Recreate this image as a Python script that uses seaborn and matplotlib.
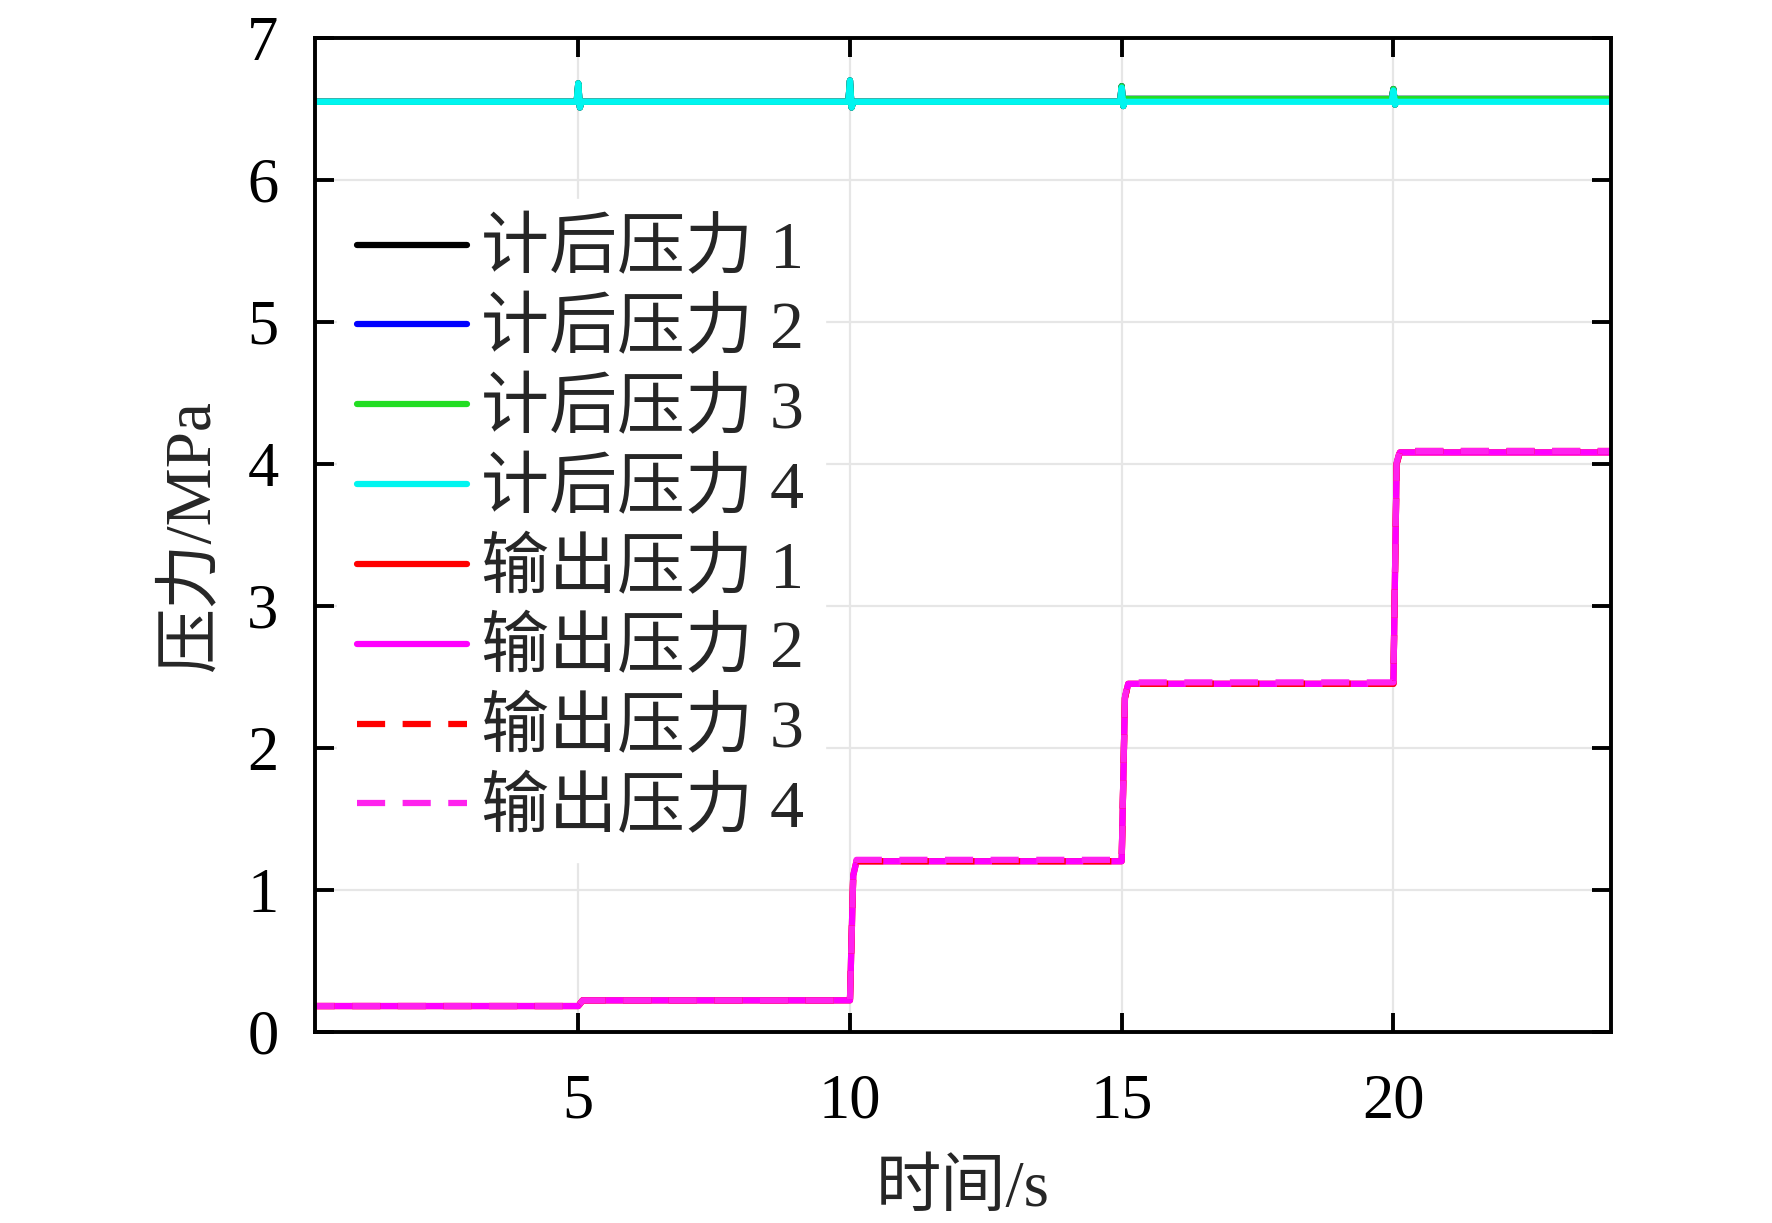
import numpy as np
import pandas as pd
import matplotlib
matplotlib.use("Agg")
import matplotlib.pyplot as plt
import seaborn as sns

# ---- data ----
t_after = [0.0, 4.97, 5.0, 5.03, 5.06, 9.97, 10.0, 10.03, 10.06, 14.97, 15.0, 15.03, 15.06,
           19.97, 20.0, 20.03, 20.06, 24.0]
after_p1 = [6.55, 6.55, 6.68, 6.51, 6.55, 6.55, 6.70, 6.51, 6.55, 6.55, 6.66, 6.52, 6.57,
            6.57, 6.64, 6.53, 6.57, 6.57]
after_p2 = [6.55, 6.55, 6.68, 6.51, 6.55, 6.55, 6.70, 6.51, 6.55, 6.55, 6.66, 6.52, 6.57,
            6.57, 6.64, 6.53, 6.57, 6.57]
after_p3 = [6.55, 6.55, 6.68, 6.51, 6.55, 6.55, 6.70, 6.51, 6.55, 6.55, 6.66, 6.52, 6.57,
            6.57, 6.64, 6.53, 6.57, 6.57]
after_p4 = [6.55, 6.55, 6.68, 6.51, 6.55, 6.55, 6.70, 6.51, 6.55, 6.55, 6.65, 6.52, 6.55,
            6.55, 6.63, 6.53, 6.55, 6.55]

t_out = [0.0, 5.0, 5.08, 10.0, 10.06, 10.12, 15.0, 15.06, 15.12, 20.0, 20.06, 20.12, 24.0]
out_p1 = [0.18, 0.18, 0.22, 0.22, 1.10, 1.20, 1.20, 2.35, 2.45, 2.45, 4.00, 4.08, 4.08]
out_p2 = [0.18, 0.18, 0.22, 0.22, 1.10, 1.20, 1.20, 2.35, 2.45, 2.45, 4.00, 4.08, 4.08]
out_p3 = [0.18, 0.18, 0.22, 0.22, 1.10, 1.20, 1.20, 2.35, 2.45, 2.45, 4.00, 4.09, 4.09]
out_p4 = [0.18, 0.18, 0.22, 0.22, 1.10, 1.21, 1.21, 2.36, 2.46, 2.46, 4.01, 4.09, 4.09]

labels = ["计后压力 1", "计后压力 2", "计后压力 3", "计后压力 4",
          "输出压力 1", "输出压力 2", "输出压力 3", "输出压力 4"]
x_ticks = [5, 10, 15, 20]
y_ticks = [0, 1, 2, 3, 4, 5, 6, 7]
x_label = "时间/s"
y_label = "压力/MPa"

# ---- style ----
sns.set_style("ticks")
FONT = ["Liberation Serif", "Noto Sans CJK SC", "DejaVu Sans"]
plt.rcParams["font.family"] = FONT
plt.rcParams["axes.unicode_minus"] = False

fig = plt.figure(figsize=(17.72, 12.23), dpi=100)
ax = fig.add_axes([0.1776, 0.1565, 0.909 - 0.1776, 0.969 - 0.1565])

LW = 4.5
DASH = (0, (4.5, 2.8))
series = [
    (t_after, after_p1, "#000000", "-"),
    (t_after, after_p2, "#0000ff", "-"),
    (t_after, after_p3, "#22dd22", "-"),
    (t_after, after_p4, "#00f5f0", "-"),
    (t_out, out_p1, "#ff0000", "-"),
    (t_out, out_p2, "#ff00ff", "-"),
    (t_out, out_p3, "#ff0000", DASH),
    (t_out, out_p4, "#ff22ee", DASH),
]
for (tx, vals, col, ls), lab in zip(series, labels):
    df = pd.DataFrame({"t": tx, "p": vals})
    sns.lineplot(data=df, x="t", y="p", ax=ax, color=col, linestyle=ls,
                 linewidth=LW, label=lab, estimator=None, sort=False)

ax.set_xlim(0.15, 24.0)
ax.set_ylim(0, 7)
ax.set_xticks(x_ticks)
ax.set_yticks(y_ticks)
ax.grid(True, color="#e6e6e6", linewidth=1.6)
ax.set_axisbelow(True)

for s in ax.spines.values():
    s.set_visible(True)
    s.set_linewidth(2.8)
    s.set_color("black")

ax.tick_params(axis="both", which="both", direction="in", length=14, width=2.8,
               top=True, right=True, labelsize=45, colors="black")
ax.tick_params(axis="x", pad=30)
ax.tick_params(axis="y", pad=26)
for lab in ax.get_xticklabels() + ax.get_yticklabels():
    lab.set_family(FONT)

ax.set_xlabel(x_label, fontsize=47, family=FONT)
ax.set_ylabel(y_label, fontsize=47, family=FONT)
ax.xaxis.set_label_coords(0.5, -0.13)
ax.yaxis.set_label_coords(-0.071, 0.5)

leg = ax.legend(loc="upper left", bbox_to_anchor=(0.017, 0.838), borderaxespad=0,
                frameon=True, facecolor="white", edgecolor="white", framealpha=1,
                fancybox=False, prop={"family": FONT, "size": 49},
                handlelength=1.62, handletextpad=0.2, labelspacing=0.245,
                borderpad=0.3)
for h in leg.get_lines():
    h.set_linewidth(LW)

fig.savefig("out.png", dpi=100, facecolor="white")
